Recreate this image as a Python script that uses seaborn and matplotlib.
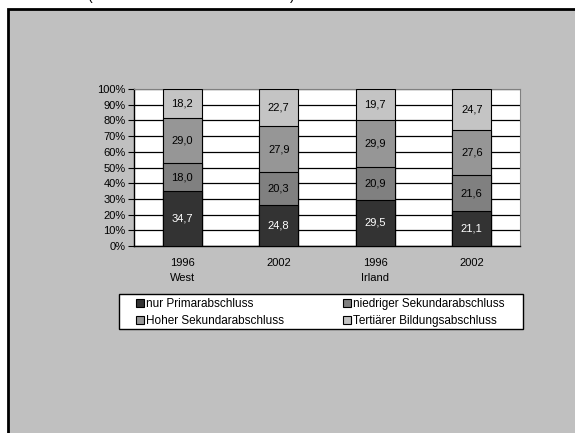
import numpy as np
import pandas as pd
import matplotlib
matplotlib.use("Agg")
import matplotlib.pyplot as plt
from matplotlib.patches import Patch, Rectangle
import seaborn as sns

# data (shares in %)
groups = ["West 1996", "West 2002", "Irland 1996", "Irland 2002"]
tick_labels = ["1996\nWest", "2002", "1996\nIrland", "2002"]
series = ["nur Primarabschluss", "niedriger Sekundarabschluss",
          "Hoher Sekundarabschluss", "Tertiärer Bildungsabschluss"]
primar = [34.7, 24.8, 29.5, 21.1]
niedrig = [18.0, 20.3, 20.9, 21.6]
hoch = [29.0, 27.9, 29.9, 27.6]
tertiaer = [18.2, 22.7, 19.7, 24.7]
colors = ["#333333", "#808080", "#969696", "#c4c4c4"]

df = pd.DataFrame({"group": groups, series[0]: primar, series[1]: niedrig,
                   series[2]: hoch, series[3]: tertiaer})
vals = df[series].to_numpy()
shares = vals / vals.sum(axis=1, keepdims=True) * 100
cum = np.cumsum(shares, axis=1)

sns.set_style("white")
plt.rcParams["font.family"] = ["Liberation Sans", "DejaVu Sans"]
plt.rcParams["font.size"] = 8
for key in ["text.color", "xtick.color", "ytick.color", "axes.labelcolor"]:
    plt.rcParams[key] = "black"

fig = plt.figure(figsize=(5.75, 4.33), dpi=100)
fig.patch.set_facecolor("white")
bg = Rectangle((8 / 575, -0.05), 1.0, 1 - 8.5 / 433 + 0.05,
               transform=fig.transFigure, facecolor="#c0c0c0",
               edgecolor="black", linewidth=2, zorder=-5)
fig.patches.append(bg)
fig.text(87 / 575, 1.0, "(", fontsize=10, va="baseline")
fig.text(290 / 575, 1.0, ")", fontsize=10, va="baseline")

ax = fig.add_axes([134 / 575, 1 - 246 / 433, 386 / 575, 157 / 433])
ax.set_zorder(1)
ax.set_facecolor("white")

# stacked bars: draw cumulative tops from highest to lowest
for i in range(3, -1, -1):
    plot_df = pd.DataFrame({"group": groups, "top": cum[:, i]})
    sns.barplot(data=plot_df, x="group", y="top", order=groups, color=colors[i],
                saturation=1, width=0.4, edgecolor="black", linewidth=0.8,
                ax=ax, zorder=3)

for j in range(len(groups)):
    lower = 0
    for i in range(4):
        mid = lower + shares[j, i] / 2
        ax.text(j, mid, f"{vals[j, i]:.1f}".replace(".", ","), ha="center",
                va="center", color="white" if i == 0 else "black", zorder=5)
        lower = cum[j, i]

ax.set_ylim(0, 100)
ax.set_xlim(-0.5, 3.5)
ax.set_yticks(range(0, 101, 10))
ax.set_yticklabels([f"{v}%" for v in range(0, 101, 10)])
ax.yaxis.grid(True, color="black", linewidth=0.9)
ax.set_axisbelow(True)
ax.set_xticks(range(4))
ax.set_xticklabels(tick_labels, linespacing=1.6)
ax.set_xticks(np.arange(-0.5, 4, 1), minor=True)
ax.tick_params(axis="x", which="major", length=0, pad=9)
ax.tick_params(axis="x", which="minor", length=4, width=0.8, color="black", direction="out")
ax.tick_params(axis="y", length=4, width=0.8, color="black", direction="out", left=True, pad=2)
ax.set_xlabel("")
ax.set_ylabel("")
for side in ["left", "bottom"]:
    ax.spines[side].set_color("black")
    ax.spines[side].set_linewidth(1)
for side in ["top", "right"]:
    ax.spines[side].set_color("#808080")
    ax.spines[side].set_linewidth(0.8)

# legend box drawn separately so the entries can sit where they do in the original
fig.patches.append(Rectangle((119 / 575, 1 - 329 / 433), 404 / 575, 35 / 433,
                             transform=fig.transFigure, facecolor="white",
                             edgecolor="black", linewidth=1, zorder=-1))
handles = [Patch(facecolor=c, edgecolor="black", linewidth=0.8) for c in colors]
order = [0, 2, 1, 3]
leg = fig.legend([handles[k] for k in order], [series[k] for k in order],
                 ncol=2, loc="upper left", fontsize=8.5,
                 bbox_to_anchor=(136 / 575, 1 - 298 / 433),
                 frameon=False, borderaxespad=0, borderpad=0,
                 handlelength=0.7, handleheight=0.7, handletextpad=0.15,
                 labelspacing=0.45, columnspacing=5.0)

fig.savefig("out.png", dpi=100)
